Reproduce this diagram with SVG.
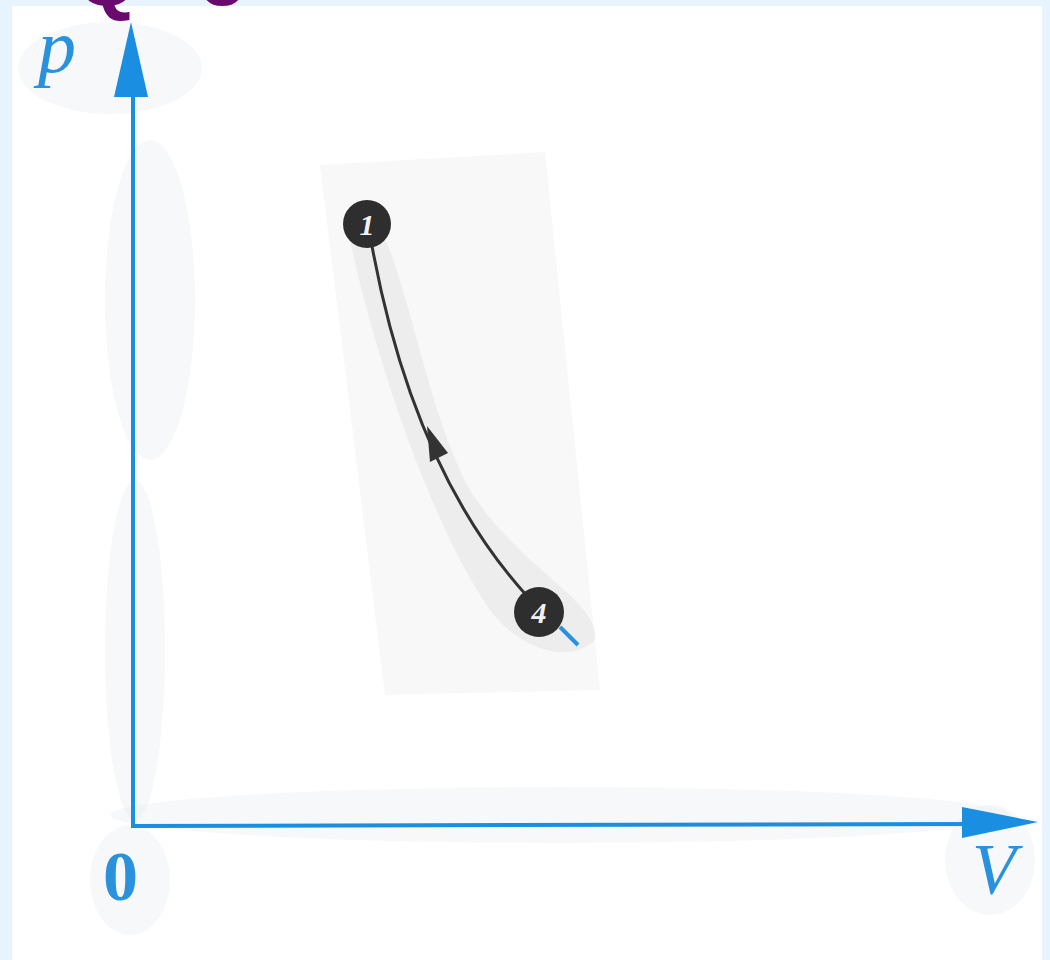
<svg xmlns="http://www.w3.org/2000/svg" width="1050" height="960" viewBox="0 0 1050 960">
<style>
.axis{stroke:#1a8ee0;stroke-width:4;fill:none}
.ahead{fill:#1a8ee0}
.lbl{font-family:"Liberation Serif",serif;fill:#2a92dc}
.node circle{fill:#2e2e2e}
.node text{font-family:"Liberation Serif",serif;font-style:italic;font-weight:bold;font-size:30px;fill:#f2f2f2;text-anchor:middle}
.smudge{fill:#e9edf2;opacity:0.4}
</style>
<rect x="0" y="0" width="1050" height="960" fill="#e8f4fd"/>
<rect x="12" y="6" width="1030" height="954" fill="#ffffff"/>
<g id="title" font-family="Liberation Sans,Arial,sans-serif" font-weight="bold" font-size="80" fill="#6a0a6e">
<text x="76" y="5">Q</text>
<text x="198" y="5">o</text>
</g>
<g id="smudges">
<ellipse class="smudge" cx="110" cy="68" rx="92" ry="46"/>
<ellipse class="smudge" cx="150" cy="300" rx="45" ry="160"/>
<ellipse class="smudge" cx="135" cy="650" rx="30" ry="170"/>
<ellipse class="smudge" cx="560" cy="815" rx="450" ry="28"/>
<ellipse class="smudge" cx="990" cy="860" rx="45" ry="55"/>
<ellipse class="smudge" cx="130" cy="880" rx="40" ry="55"/>
<polygon points="320,165 545,152 600,690 385,695" fill="#f8f8f8"/>
<path d="M360,205 C400,220 420,400 470,490 C520,570 600,600 595,640 C570,665 520,650 490,610 C440,540 380,380 350,240 Z" fill="#e6e6e6" opacity="0.6"/>
</g>
<g id="axes">
<line class="axis" x1="133" y1="828" x2="133" y2="80"/>
<polygon class="ahead" points="131,22 114,97 148,97"/>
<line class="axis" x1="133" y1="826" x2="975" y2="824"/>
<polygon class="ahead" points="1038,822 962,807 962,838"/>
<text class="lbl" x="38" y="72" font-size="76" font-style="italic">p</text>
<text class="lbl" x="103" y="900" font-size="70" font-weight="bold">0</text>
<text class="lbl" x="972" y="893" font-size="72" font-style="italic">V</text>
</g>
<g id="connectors">
<path d="M372,246 Q413,470 527,596" fill="none" stroke="#333" stroke-width="3"/>
<polygon points="427,426 430,462 448,453" fill="#333"/>
<line x1="560" y1="627" x2="578" y2="645" stroke="#2a92dc" stroke-width="4"/>
</g>
<g id="node-1" class="node">
<circle cx="367" cy="224" r="24"/>
<text x="367" y="235">1</text>
</g>
<g id="node-4" class="node">
<circle cx="539" cy="612" r="25"/>
<text x="539" y="623">4</text>
</g>
</svg>
